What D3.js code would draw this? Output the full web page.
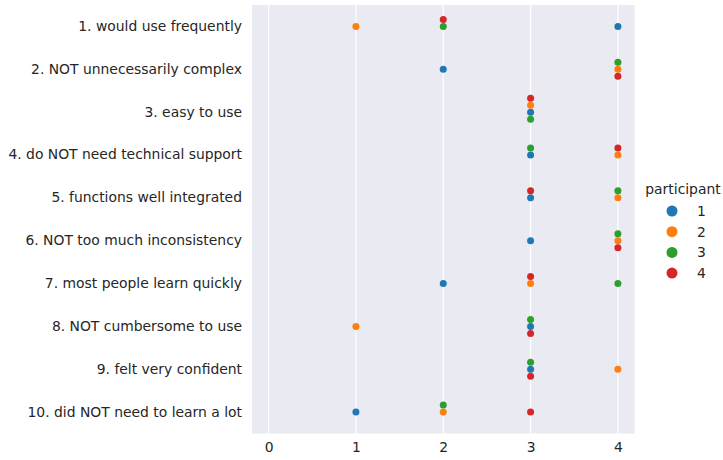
<!DOCTYPE html>
<html><head><meta charset="utf-8">
<script src="https://cdn.jsdelivr.net/npm/d3@7"></script>
<style>body{margin:0;background:#fff}svg{display:block}text{font-family:"DejaVu Sans",sans-serif;fill:#262626}</style>
</head><body><svg id="c" width="723" height="460"></svg>
<script>
const questions = ["1. would use frequently","2. NOT unnecessarily complex","3. easy to use","4. do NOT need technical support","5. functions well integrated","6. NOT too much inconsistency","7. most people learn quickly","8. NOT cumbersome to use","9. felt very confident","10. did NOT need to learn a lot"];
const participants = [1,2,3,4];
const scoresP1 = [4,2,3,3,3,3,2,3,3,1];
const scoresP2 = [1,4,3,4,4,4,3,1,4,2];
const scoresP3 = [2,4,3,3,4,4,4,3,3,2];
const scoresP4 = [2,4,3,4,3,4,3,3,3,3];
const xTicks = [0,1,2,3,4];
const colors = ["#1f77b4","#ff7f0e","#2ca02c","#d62728"];

const allScores = [scoresP1,scoresP2,scoresP3,scoresP4];
const data = [];
questions.forEach((q,qi)=>{
  participants.forEach((p,pi)=>{ data.push({q, p, v: allScores[pi][qi]}); });
});

const FS = 13.9;
const svg = d3.select("#c");
const m = {l:252, r:634.5, t:5, b:433.5};
const x = d3.scaleLinear().domain([-0.19,4.19]).range([m.l,m.r]);
const y = d3.scaleBand().domain(questions).range([m.t,m.b]);
const color = d3.scaleOrdinal().domain(participants).range(colors);

svg.append("rect").attr("x",m.l).attr("y",m.t).attr("width",m.r-m.l).attr("height",m.b-m.t).attr("fill","#eaeaf2");
svg.append("g").selectAll("line").data(xTicks).join("line")
  .attr("x1",d=>x(d)).attr("x2",d=>x(d)).attr("y1",m.t).attr("y2",m.b)
  .attr("stroke","#fff").attr("stroke-width",1.25);

// swarm offsets: points sharing a (question, value) spread alternately up/down
const step = 7;
const groups = d3.group(data, d=>d.q, d=>d.v);
groups.forEach(byV=>byV.forEach(arr=>{
  arr.forEach((d,i)=>{ const k = Math.ceil(i/2); d.off = i===0?0:(i%2===1?-k:k)*step; });
}));

svg.append("g").selectAll("circle").data(data).join("circle")
  .attr("cx",d=>x(d.v)).attr("cy",d=>y(d.q)+y.bandwidth()/2+d.off)
  .attr("r",3.5).attr("fill",d=>color(d.p));

const xAxis = svg.append("g").attr("transform",`translate(0,${m.b})`)
  .call(d3.axisBottom(x).tickValues(xTicks).tickFormat(d3.format("d")).tickSize(0).tickPadding(9));
xAxis.select(".domain").remove();
xAxis.selectAll("text").attr("font-size",FS).attr("fill","#262626").style("font-family","DejaVu Sans");

const yAxis = svg.append("g").attr("transform",`translate(${m.l},0)`)
  .call(d3.axisLeft(y).tickSize(0).tickPadding(10));
yAxis.select(".domain").remove();
yAxis.selectAll("text").attr("font-size",FS).attr("fill","#262626").style("font-family","DejaVu Sans");

const lg = svg.append("g");
lg.append("text").attr("x",683).attr("y",194).attr("text-anchor","middle").attr("font-size",FS).text("participant");
participants.forEach((p,i)=>{
  const yy = 211 + i*20.7;
  lg.append("circle").attr("cx",672).attr("cy",yy).attr("r",5.5).attr("fill",color(p));
  lg.append("text").attr("x",697).attr("y",yy).attr("dy","0.35em").attr("font-size",FS).text(p);
});
</script></body></html>
